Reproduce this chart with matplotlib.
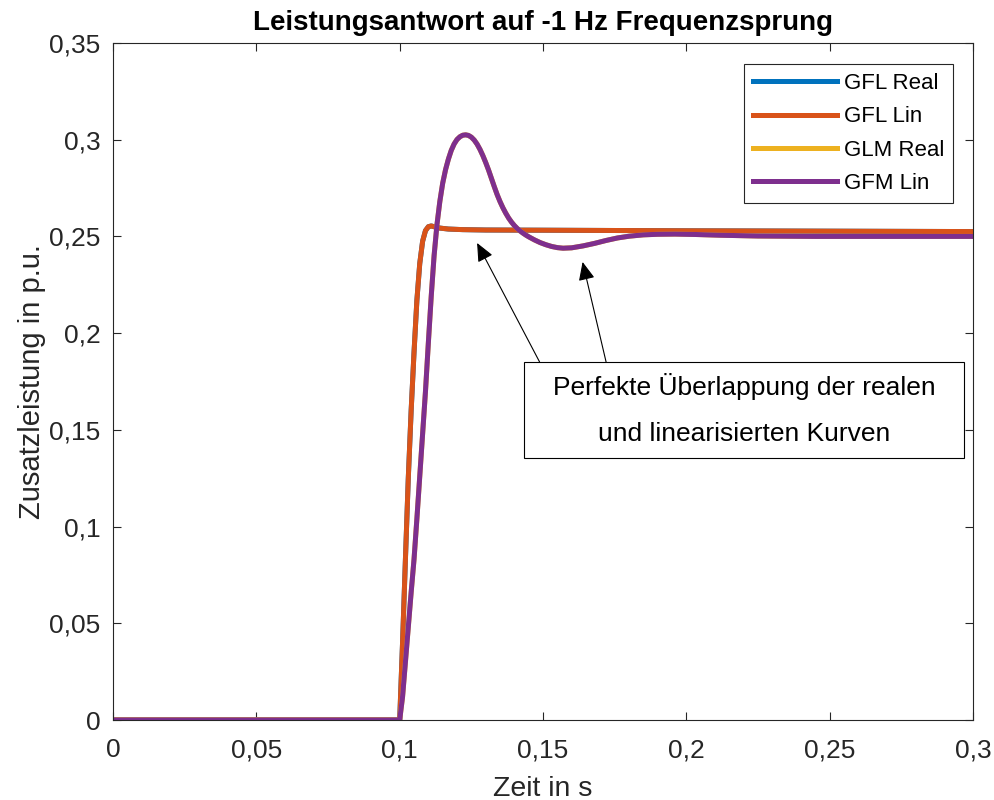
import matplotlib
matplotlib.use('Agg')
import matplotlib.pyplot as plt
from matplotlib.patches import Rectangle
from matplotlib.ticker import FuncFormatter

plt.rcParams['font.family'] = ['Liberation Sans', 'DejaVu Sans']

# GFL response (real and linearised model coincide)
t_gfl = [0.0, 0.1000, 0.1010, 0.1020, 0.1030, 0.1040, 0.1050, 0.1060, 0.1070,
         0.1080, 0.1090, 0.1100, 0.1110, 0.1120, 0.1140, 0.1170, 0.1220,
         0.1300, 0.1500, 0.2000, 0.3000]
p_gfl = [0.0, 0.0, 0.040, 0.083, 0.125, 0.160, 0.190, 0.217, 0.236,
         0.2475, 0.2530, 0.2550, 0.2554, 0.2550, 0.2543, 0.2538, 0.2535,
         0.2533, 0.2532, 0.2529, 0.2525]

# GFM response (real and linearised model coincide)
t_gfm = [0.0, 0.1000, 0.1010, 0.1020, 0.1030, 0.1040, 0.1050, 0.1060, 0.1070,
         0.1080, 0.1090, 0.1100, 0.1110, 0.1120, 0.1130, 0.1140, 0.1150,
         0.1160, 0.1170, 0.1180, 0.1190, 0.1200, 0.1210, 0.1220, 0.1230,
         0.1240, 0.1250, 0.1260, 0.1270, 0.1280, 0.1290, 0.1300, 0.1310,
         0.1320, 0.1330, 0.1340, 0.1350, 0.1360, 0.1370, 0.1380, 0.1390,
         0.1400, 0.1410, 0.1420, 0.1430, 0.1440, 0.1450, 0.1470, 0.1490,
         0.1510, 0.1530, 0.1550, 0.1570, 0.1600, 0.1640, 0.1680, 0.1720,
         0.1760, 0.1800, 0.1850, 0.1900, 0.1960, 0.2030, 0.2120, 0.2250,
         0.2450, 0.3000]
p_gfm = [0.0, 0.0, 0.012, 0.030, 0.048, 0.066, 0.083, 0.104, 0.126,
         0.148, 0.170, 0.195, 0.219, 0.240, 0.256, 0.268, 0.2775,
         0.2845, 0.2900, 0.2945, 0.2978, 0.3001, 0.3015, 0.3023, 0.3025,
         0.3022, 0.3013, 0.2998, 0.2977, 0.2950, 0.2918, 0.2882, 0.2843,
         0.2800, 0.2757, 0.2716, 0.2680, 0.2648, 0.2620, 0.2595, 0.2574,
         0.2556, 0.2541, 0.2528, 0.2517, 0.2507, 0.2498, 0.2482, 0.2468,
         0.2457, 0.2448, 0.2442, 0.2439, 0.2441, 0.2451, 0.2464, 0.2479,
         0.2492, 0.2501, 0.2508, 0.2511, 0.2512, 0.2510, 0.2506, 0.2502,
         0.2500, 0.2500]

labels = ['GFL Real', 'GFL Lin', 'GLM Real', 'GFM Lin']
colors = ['#0072BD', '#D95319', '#EDB120', '#7E2F8E']

x_ticks = [0, 0.05, 0.1, 0.15, 0.2, 0.25, 0.3]
y_ticks = [0, 0.05, 0.1, 0.15, 0.2, 0.25, 0.3, 0.35]

note_text = 'Perfekte Überlappung der realen\nund linearisierten Kurven'
# arrow tips on the curves and their tails on the note box
arrow_tips = [(0.1270, 0.2466), (0.1638, 0.2368)]
arrow_tails = [(0.1488, 0.1851), (0.1720, 0.1851)]

axis_col = '#262626'

fig = plt.figure(figsize=(9.94, 8), dpi=100)
ax = fig.add_axes([0.1137, 0.1, 0.8652, 0.8463])

lw = 3.6
ax.plot(t_gfl, p_gfl, color=colors[0], lw=lw, label=labels[0])
ax.plot(t_gfl, p_gfl, color=colors[1], lw=lw, label=labels[1])
ax.plot(t_gfm, p_gfm, color=colors[2], lw=lw, label=labels[2])
ax.plot(t_gfm, p_gfm, color=colors[3], lw=lw, label=labels[3])

ax.set_xlim(0, 0.3)
ax.set_ylim(0, 0.35)
ax.set_xticks(x_ticks)
ax.set_yticks(y_ticks)
comma = FuncFormatter(lambda v, pos: ('%g' % v).replace('.', ','))
ax.xaxis.set_major_formatter(comma)
ax.yaxis.set_major_formatter(comma)
ax.tick_params(direction='in', length=6, width=0.8, top=True, right=True,
               labelsize=19, colors=axis_col)
ax.tick_params(axis='x', pad=13)
ax.tick_params(axis='y', pad=9)
for s in ax.spines.values():
    s.set_color(axis_col)
    s.set_linewidth(0.8)

ax.set_title('Leistungsantwort auf -1 Hz Frequenzsprung', fontsize=20,
             fontweight='bold', pad=9)
ax.set_xlabel('Zeit in s', fontsize=20.5, color=axis_col, labelpad=10)
ax.set_ylabel('Zusatzleistung in p.u.', fontsize=21, color=axis_col, labelpad=2)

leg = ax.legend(loc='upper right', bbox_to_anchor=(0.977, 0.969),
                borderaxespad=0, fontsize=16, fancybox=False, framealpha=1,
                edgecolor=axis_col, handlelength=3.8, handletextpad=0.3,
                labelspacing=0.56, borderpad=0.4)
leg.get_frame().set_linewidth(0.8)

# note box with arrows pointing at the overlapping curves
ax.add_patch(Rectangle((0.1434, 0.1355), 0.1535, 0.0496, facecolor='white',
                       edgecolor='black', lw=0.8, zorder=5))
ax.text(0.2201, 0.1603, note_text, ha='center', va='center', fontsize=19,
        linespacing=2.15, zorder=6)
for tip, tail in zip(arrow_tips, arrow_tails):
    ax.annotate('', xy=tip, xytext=tail, zorder=6,
                arrowprops=dict(arrowstyle='-|>,head_length=0.45,head_width=0.2',
                                mutation_scale=25, color='black', lw=0.8,
                                shrinkA=0, shrinkB=0))

fig.savefig('out.png', dpi=100)
